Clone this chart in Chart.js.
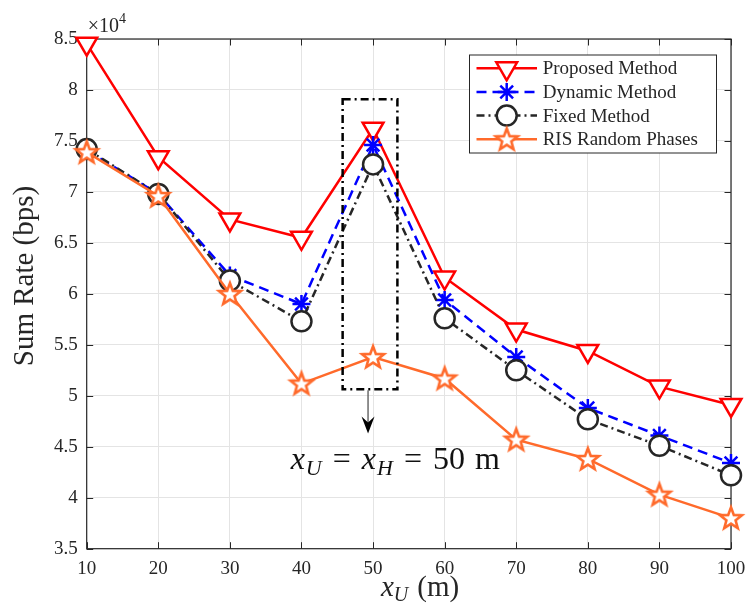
<!DOCTYPE html>
<html>
<head>
<meta charset="utf-8">
<script src="https://cdn.jsdelivr.net/npm/chart.js"></script>
<style>
  body { margin: 0; background: #fff; }
  #wrap { width: 747px; height: 607px; }
</style>
</head>
<body>
<div id="wrap"><canvas id="rateChart" width="747" height="607"></canvas></div>
<script>
// ---------- DATA ----------
const xValues = [10, 20, 30, 40, 50, 60, 70, 80, 90, 100];
const proposedRate = [84540, 73400, 67300, 65500, 76200, 61600, 56500, 54400, 50900, 49100];
const dynamicRate = [74100, 69800, 61800, 59000, 74600, 59400, 53800, 48800, 46100, 43400];
const fixedRate = [74200, 69800, 61300, 57300, 72700, 57600, 52500, 47700, 45100, 42200];
const randomRate = [73900, 69600, 60000, 51200, 53800, 51700, 45700, 43800, 40300, 38000];
const seriesNames = ["Proposed Method", "Dynamic Method", "Fixed Method", "RIS Random Phases"];
const xTicks = [10, 20, 30, 40, 50, 60, 70, 80, 90, 100];
const yTicks = [35000, 40000, 45000, 50000, 55000, 60000, 65000, 70000, 75000, 80000, 85000];

const AXIS = "#262626";
const SERIF = "'Liberation Serif', 'Times New Roman', serif";

// pentagram marker (MATLAB 'p')
function makePentagram(color) {
  const c = document.createElement("canvas");
  c.width = 30; c.height = 30;
  const g = c.getContext("2d");
  const R = 11.5, r = R * 0.42;
  g.beginPath();
  for (let i = 0; i < 10; i++) {
    const a = -Math.PI / 2 + i * Math.PI / 5;
    const rr = i % 2 === 0 ? R : r;
    const px = 15 + rr * Math.cos(a), py = 15.8 + rr * Math.sin(a);
    if (i === 0) g.moveTo(px, py); else g.lineTo(px, py);
  }
  g.closePath();
  g.fillStyle = "#fff";
  g.fill();
  g.lineWidth = 2.6;
  g.lineJoin = "miter";
  g.strokeStyle = color;
  g.stroke();
  return c;
}
const starImg = makePentagram("#FF6A2B");

function pts(arr) {
  return arr.map((v, i) => ({ x: xValues[i], y: v }));
}

// ---------- PLUGINS ----------
const framePlugin = {
  id: "frame",
  beforeDatasetsDraw(chart) {
    const { ctx, chartArea: a, scales } = chart;
    ctx.save();
    ctx.strokeStyle = AXIS;
    ctx.lineWidth = 1.2;
    ctx.strokeRect(a.left, a.top, a.right - a.left, a.bottom - a.top);
    ctx.lineWidth = 1;
    const tl = 6.5;
    xTicks.forEach(t => {
      const px = Math.round(scales.x.getPixelForValue(t)) + 0.5;
      ctx.beginPath();
      ctx.moveTo(px, a.bottom); ctx.lineTo(px, a.bottom - tl);
      ctx.moveTo(px, a.top); ctx.lineTo(px, a.top + tl);
      ctx.stroke();
    });
    yTicks.forEach(t => {
      const py = Math.round(scales.y.getPixelForValue(t)) + 0.5;
      ctx.beginPath();
      ctx.moveTo(a.left, py); ctx.lineTo(a.left + tl, py);
      ctx.moveTo(a.right, py); ctx.lineTo(a.right - tl, py);
      ctx.stroke();
    });
    ctx.restore();
  }
};

function drawMathRuns(ctx, runs, x, y) {
  let cx = x;
  runs.forEach(r => {
    cx += r.gap || 0;
    ctx.font = r.font;
    ctx.fillText(r.t, cx, y + (r.dy || 0));
    cx += ctx.measureText(r.t).width;
  });
  return cx - x;
}
function measureRuns(ctx, runs) {
  let w = 0;
  runs.forEach(r => { ctx.font = r.font; w += (r.gap || 0) + ctx.measureText(r.t).width; });
  return w;
}

const annotPlugin = {
  id: "annot",
  afterDraw(chart) {
    const { ctx, chartArea: a, scales } = chart;
    const xs = scales.x, ys = scales.y;
    ctx.save();
    ctx.fillStyle = AXIS;
    ctx.textBaseline = "alphabetic";

    // x10^4
    ctx.textAlign = "left";
    drawMathRuns(ctx, [
      { t: "\u00d710", font: "20px " + SERIF },
      { t: "4", font: "14px " + SERIF, dy: -9 }
    ], a.left + 1, a.top - 7);

    // y title
    ctx.save();
    ctx.translate(25, 276);
    ctx.rotate(-Math.PI / 2);
    ctx.textAlign = "center";
    ctx.textBaseline = "middle";
    ctx.font = "29px " + SERIF;
    ctx.fillText("Sum Rate (bps)", 0, 0);
    ctx.restore();

    // x title
    const xt = [
      { t: "x", font: "italic 29px " + SERIF },
      { t: "U", font: "italic 20px " + SERIF, dy: 5 },
      { t: "(m)", font: "29px " + SERIF, gap: 9 }
    ];
    const xw = measureRuns(ctx, xt);
    drawMathRuns(ctx, xt, 420 - xw / 2, 596);

    // dash-dot box around x = 50
    const bx0 = xs.getPixelForValue(45.75), bx1 = xs.getPixelForValue(53.4);
    const by0 = ys.getPixelForValue(79090), by1 = ys.getPixelForValue(50630);
    ctx.strokeStyle = "#000";
    ctx.lineWidth = 2.5;
    ctx.setLineDash([8, 4, 2, 4]);
    ctx.strokeRect(bx0, by0, bx1 - bx0, by1 - by0);
    ctx.setLineDash([]);

    // arrow
    const ax = xs.getPixelForValue(49.3);
    const tipY = ys.getPixelForValue(46310);
    ctx.strokeStyle = "#555";
    ctx.lineWidth = 1.3;
    ctx.beginPath();
    ctx.moveTo(ax, by1 + 1);
    ctx.lineTo(ax, tipY - 8);
    ctx.stroke();
    ctx.fillStyle = "#000";
    ctx.beginPath();
    ctx.moveTo(ax, tipY);
    ctx.lineTo(ax - 6.5, tipY - 17);
    ctx.lineTo(ax, tipY - 11);
    ctx.lineTo(ax + 6.5, tipY - 17);
    ctx.closePath();
    ctx.fill();

    // equation label
    ctx.fillStyle = "#111";
    const eq = [
      { t: "x", font: "italic 32px " + SERIF },
      { t: "U", font: "italic 22px " + SERIF, dy: 6, gap: 1 },
      { t: "=", font: "32px " + SERIF, gap: 11 },
      { t: "x", font: "italic 32px " + SERIF, gap: 11 },
      { t: "H", font: "italic 22px " + SERIF, dy: 6, gap: 1 },
      { t: "=", font: "32px " + SERIF, gap: 11 },
      { t: "50", font: "32px " + SERIF, gap: 11 },
      { t: "m", font: "32px " + SERIF, gap: 10 }
    ];
    const ew = measureRuns(ctx, eq);
    const ex0 = xs.getPixelForValue(38.6), ex1 = xs.getPixelForValue(67.6);
    drawMathRuns(ctx, eq, (ex0 + ex1) / 2 - ew / 2, ys.getPixelForValue(42780));

    // legend
    const lx0 = 469.5, ly0 = 55, lw = 247, lh = 98;
    ctx.fillStyle = "#fff";
    ctx.fillRect(lx0, ly0, lw, lh);
    ctx.strokeStyle = AXIS;
    ctx.lineWidth = 1;
    ctx.strokeRect(lx0, ly0, lw, lh);
    const rows = [68.3, 92, 115.6, 139.2];
    chart.data.datasets.forEach((ds, i) => {
      const y = rows[i];
      ctx.strokeStyle = ds.borderColor;
      ctx.lineWidth = ds.borderWidth;
      ctx.setLineDash(ds.borderDash || []);
      ctx.beginPath();
      ctx.moveTo(476.5, y); ctx.lineTo(537, y);
      ctx.stroke();
      ctx.setLineDash([]);
      ctx.fillStyle = ds.pointBackgroundColor;
      ctx.strokeStyle = ds.pointBorderColor;
      ctx.lineWidth = ds.pointBorderWidth;
      Chart.helpers.drawPoint(ctx, {
        pointStyle: ds.pointStyle, rotation: ds.pointRotation || 0,
        radius: ds.pointRadius, borderWidth: ds.pointBorderWidth
      }, 506.7, y);
      ctx.fillStyle = AXIS;
      ctx.font = "19px " + SERIF;
      ctx.textBaseline = "middle";
      ctx.textAlign = "left";
      ctx.fillText(seriesNames[i], 542.7, y + 1);
    });
    ctx.restore();
  }
};

// ---------- CHART ----------
new Chart(document.getElementById("rateChart"), {
  type: "line",
  data: {
    datasets: [
      {
        label: seriesNames[0], data: pts(proposedRate), order: 4,
        borderColor: "#FF0000", borderWidth: 2.5,
        pointStyle: "triangle", pointRotation: 180, pointRadius: 12,
        pointBackgroundColor: "#fff", pointBorderColor: "#FF0000", pointBorderWidth: 2.5
      },
      {
        label: seriesNames[1], data: pts(dynamicRate), order: 3,
        borderColor: "#0000FF", borderWidth: 2.5, borderDash: [10, 6],
        pointStyle: "star", pointRadius: 9,
        pointBackgroundColor: "#0000FF", pointBorderColor: "#0000FF", pointBorderWidth: 2.5
      },
      {
        label: seriesNames[2], data: pts(fixedRate), order: 2,
        borderColor: "#262626", borderWidth: 2.5, borderDash: [8, 4, 2, 4],
        pointStyle: "circle", pointRadius: 10,
        pointBackgroundColor: "#fff", pointBorderColor: "#262626", pointBorderWidth: 2.5
      },
      {
        label: seriesNames[3], data: pts(randomRate), order: 1,
        borderColor: "#FF6A2B", borderWidth: 2.5,
        pointStyle: starImg, pointRadius: 12,
        pointBackgroundColor: "#fff", pointBorderColor: "#FF6A2B", pointBorderWidth: 2.5
      }
    ]
  },
  options: {
    responsive: false,
    animation: false,
    layout: { padding: { left: 0, top: 39, right: 16, bottom: 0 } },
    elements: { line: { tension: 0 } },
    datasets: { line: { clip: false } },
    plugins: { legend: { display: false }, tooltip: { enabled: false } },
    scales: {
      x: {
        type: "linear", min: 10, max: 100,
        afterFit: s => { s.height = 58.3; s.paddingLeft = 0; s.paddingRight = 0; },
        afterBuildTicks: s => { s.ticks = xTicks.map(v => ({ value: v })); },
        grid: { color: "#e4e4e4", lineWidth: 1, drawTicks: false },
        border: { display: false },
        ticks: { color: AXIS, padding: 9, font: { family: SERIF, size: 19 } }
      },
      y: {
        type: "linear", min: 35000, max: 85000,
        afterFit: s => { s.width = 86.7; s.paddingTop = 0; s.paddingBottom = 0; },
        afterBuildTicks: s => { s.ticks = yTicks.map(v => ({ value: v })); },
        grid: { color: "#e4e4e4", lineWidth: 1, drawTicks: false },
        border: { display: false },
        ticks: {
          color: AXIS, padding: 9, font: { family: SERIF, size: 19 },
          callback: v => String(v / 10000)
        }
      }
    }
  },
  plugins: [framePlugin, annotPlugin]
});
</script>
</body>
</html>
